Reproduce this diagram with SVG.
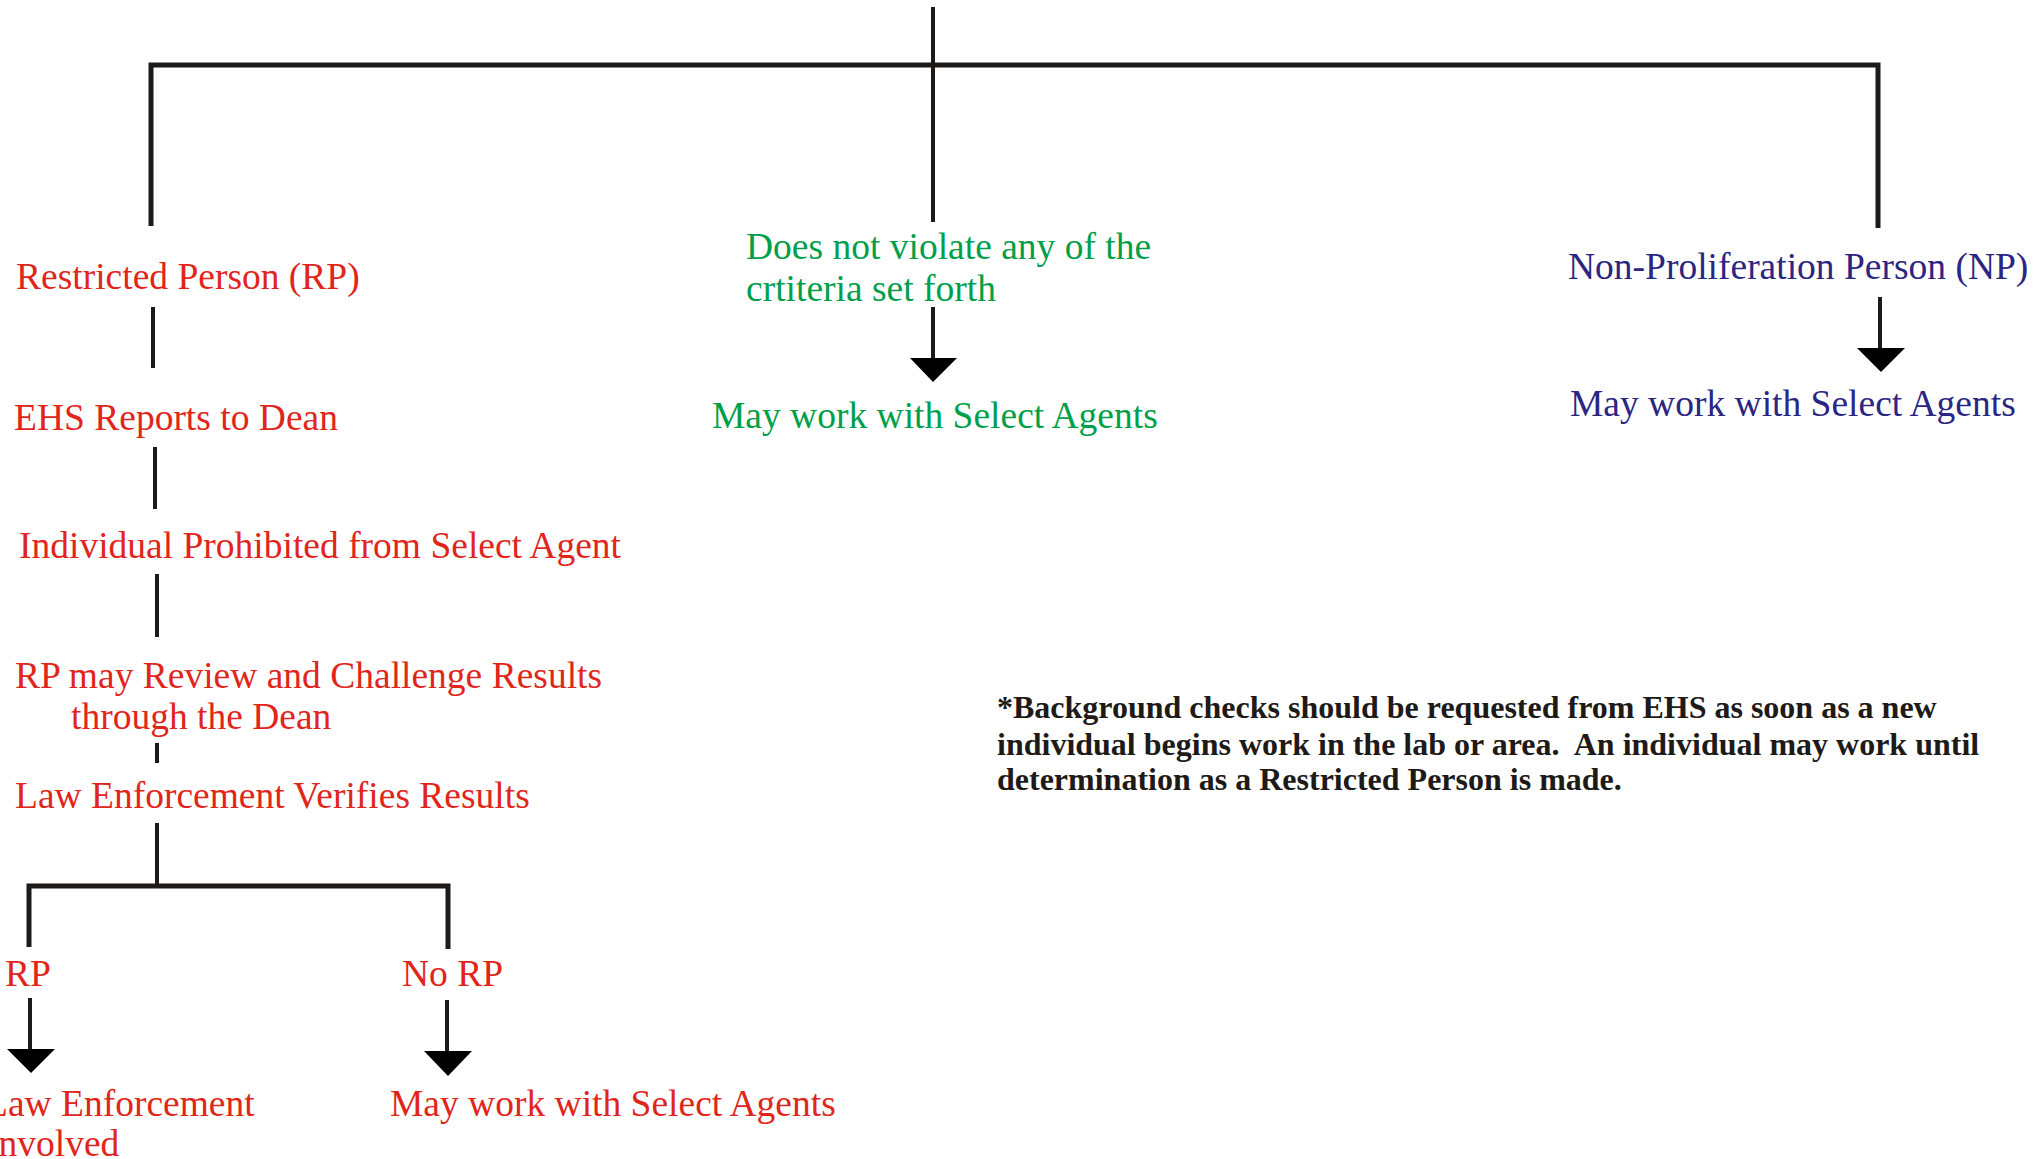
<svg xmlns="http://www.w3.org/2000/svg" width="2042" height="1159" viewBox="0 0 2042 1159">
<style>
.t{font-family:"Liberation Serif","Times New Roman",serif;font-size:37.5px}
.red{fill:#E1251B}
.grn{fill:#00A04A}
.nav{fill:#2B2583}
.note{font-family:"Liberation Serif","Times New Roman",serif;font-size:32px;font-weight:bold;fill:#1E1A17;white-space:pre}
.ln{stroke:#1E1A17;stroke-width:4;fill:none}
.bar{stroke:#1E1A17;stroke-width:5;fill:none}
.ah{fill:#000}
</style>
<rect width="2042" height="1159" fill="#fff"/>
<g id="connectors">
<line class="ln" x1="933" y1="7" x2="933" y2="222"/>
<polyline class="bar" points="151,226 151,65 1878,65 1878,228"/>
<line class="ln" x1="153" y1="307" x2="153" y2="368"/>
<line class="ln" x1="155" y1="447" x2="155" y2="509"/>
<line class="ln" x1="157" y1="574" x2="157" y2="637"/>
<line class="ln" x1="157" y1="743" x2="157" y2="763"/>
<line class="ln" x1="157" y1="823" x2="157" y2="886"/>
<polyline class="bar" points="29,947 29,886 448,886 448,949"/>
<line class="ln" x1="933" y1="307" x2="933" y2="360"/>
<polygon class="ah" points="910,358 957,358 933,382"/>
<line class="ln" x1="1880" y1="297" x2="1880" y2="350"/>
<polygon class="ah" points="1857,348 1905,348 1881,372"/>
<line class="ln" x1="30" y1="998" x2="30" y2="1051"/>
<polygon class="ah" points="7,1049 55,1049 31,1073"/>
<line class="ln" x1="447" y1="1000" x2="447" y2="1053"/>
<polygon class="ah" points="424,1051 472,1051 448,1076"/>
</g>
<g id="node-rp"><text class="t red" x="16" y="289">Restricted Person (RP)</text></g>
<g id="node-ehs"><text class="t red" x="14" y="430">EHS Reports to Dean</text></g>
<g id="node-prohibited"><text class="t red" x="19" y="558">Individual Prohibited from Select Agent</text></g>
<g id="node-review"><text class="t red" x="15" y="688">RP may Review and Challenge Results</text><text class="t red" x="71" y="729">through the Dean</text></g>
<g id="node-verify"><text class="t red" x="15" y="808">Law Enforcement Verifies Results</text></g>
<g id="node-rp2"><text class="t red" x="5" y="986">RP</text></g>
<g id="node-norp"><text class="t red" x="402" y="986">No RP</text></g>
<g id="node-law"><text class="t red" x="-15" y="1116">Law Enforcement</text><text class="t red" x="-14" y="1156">Involved</text></g>
<g id="node-may-red"><text class="t red" x="390" y="1116">May work with Select Agents</text></g>
<g id="node-notviolate"><text class="t grn" x="746" y="259">Does not violate any of the</text><text class="t grn" x="746" y="301">crtiteria set forth</text></g>
<g id="node-may-green"><text class="t grn" x="712" y="428">May work with Select Agents</text></g>
<g id="node-np"><text class="t nav" x="1568" y="279">Non-Proliferation Person (NP)</text></g>
<g id="node-may-navy"><text class="t nav" x="1570" y="416">May work with Select Agents</text></g>
<g id="note">
<text class="note" x="997" y="718">*Background checks should be requested from EHS as soon as a new</text>
<text class="note" x="997" y="755">individual begins work in the lab or area.  An individual may work until</text>
<text class="note" x="997" y="790">determination as a Restricted Person is made.</text>
</g>
</svg>
